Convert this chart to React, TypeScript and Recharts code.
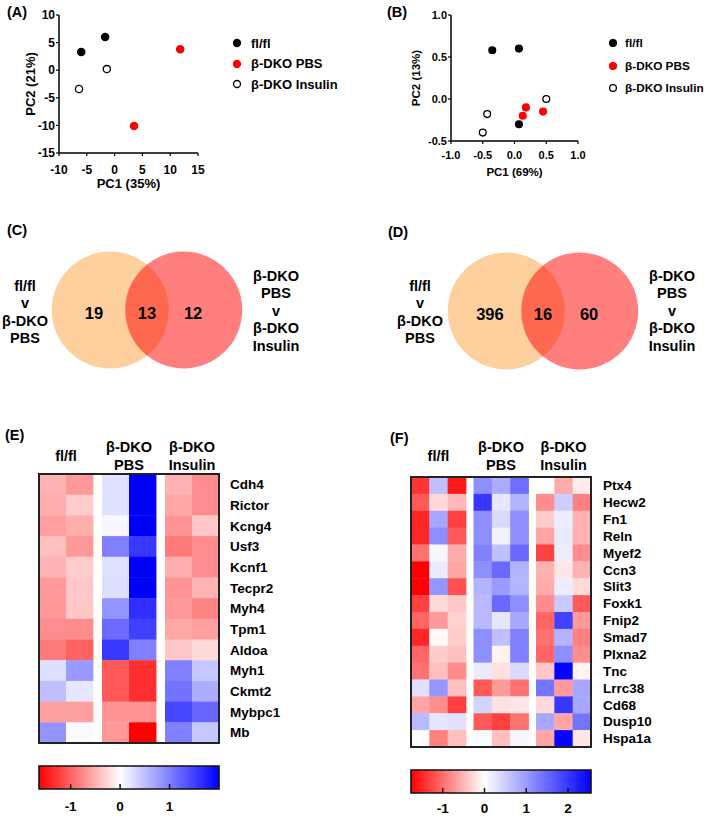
import React from 'react';
import { ScatterChart, Scatter, XAxis, YAxis, ReferenceArea } from 'recharts';

const FONT = "'Liberation Sans', Arial, Helvetica, sans-serif";

// (A) and (B): PCA scores
const groupNames = ['fl/fl', 'β-DKO PBS', 'β-DKO Insulin'];

const pcaA_fl = [{ x: -6.0, y: 3.3 }, { x: -1.7, y: 6.0 }];
const pcaA_pbs = [{ x: 11.8, y: 3.8 }, { x: 3.5, y: -10.1 }];
const pcaA_ins = [{ x: -6.4, y: -3.4 }, { x: -1.4, y: 0.2 }];
const pcaA_xTicks = [-10, -5, 0, 5, 10, 15];
const pcaA_yTicks = [-15, -10, -5, 0, 5, 10];

const pcaB_fl = [{ x: -0.35, y: 0.58 }, { x: 0.07, y: 0.6 }, { x: 0.07, y: -0.3 }];
const pcaB_pbs = [{ x: 0.18, y: -0.1 }, { x: 0.13, y: -0.2 }, { x: 0.45, y: -0.15 }];
const pcaB_ins = [{ x: -0.43, y: -0.18 }, { x: -0.5, y: -0.4 }, { x: 0.5, y: 0.0 }];
const pcaB_xTicks = [-1, -0.5, 0, 0.5, 1];
const pcaB_yTicks = [-0.5, 0, 0.5, 1];

// (C) and (D): overlap counts [left only, both, right only]
const vennC = [19, 13, 12];
const vennD = [396, 16, 60];
const vennLeftLabel = ['fl/fl', 'v', 'β-DKO', 'PBS'];
const vennRightLabel = ['β-DKO', 'PBS', 'v', 'β-DKO', 'Insulin'];

// (E) and (F): heatmaps
const heatGroups = [['fl/fl'], ['β-DKO', 'PBS'], ['β-DKO', 'Insulin']];

const genesE = ['Cdh4', 'Rictor', 'Kcng4', 'Usf3', 'Kcnf1', 'Tecpr2', 'Myh4', 'Tpm1', 'Aldoa', 'Myh1', 'Ckmt2', 'Mybpc1', 'Mb'];
const valuesE = [
  [-0.49, -0.66, 0.24, 2.0, -0.49, -0.74],
  [-0.52, -0.33, 0.24, 2.0, -0.57, -0.74],
  [-0.62, -0.52, 0.06, 2.0, -0.69, -0.36],
  [-0.41, -0.66, 1.0, 1.56, -0.85, -0.74],
  [-0.49, -0.33, 0.24, 2.0, -0.52, -0.74],
  [-0.66, -0.36, 0.26, 2.0, -0.69, -0.49],
  [-0.66, -0.36, 0.84, 1.64, -0.66, -0.79],
  [-0.74, -0.74, 1.16, 1.5, -0.57, -0.62],
  [-0.85, -1.02, 1.56, 1.0, -0.36, -0.25],
  [0.26, 0.8, -1.07, -1.34, 1.0, 0.44],
  [0.5, 0.2, -1.07, -1.34, 1.1, 0.64],
  [-0.62, -0.62, -0.69, -0.69, 1.44, 1.2],
  [0.84, 0.04, -0.66, -1.64, 1.0, 0.44],
];
const scaleE = [-1.64, 2.0];
const barTicksE = [-1, 0, 1];

const genesF = ['Ptx4', 'Hecw2', 'Fn1', 'Reln', 'Myef2', 'Ccn3', 'Slit3', 'Foxk1', 'Fnip2', 'Smad7', 'Plxna2', 'Tnc', 'Lrrc38', 'Cd68', 'Dusp10', 'Hspa1a'];
const valuesF = [
  [-1.4, 0.63, -1.58, 1.13, 0.83, 1.44, 0.0, -0.58, -0.14],
  [-1.14, -0.26, -0.49, 2.0, 0.25, 0.76, -0.79, 0.5, -0.88],
  [-1.5, 0.88, -1.32, 1.13, 0.38, 1.13, -0.35, 0.18, -0.53],
  [-1.5, 1.13, -1.14, 1.13, 0.13, 1.13, -0.62, 0.2, -0.53],
  [-0.97, 0.08, -0.58, 1.26, 0.63, 1.5, -1.32, 0.18, -0.79],
  [-1.76, 0.2, -0.62, 1.13, 1.5, 0.76, -0.53, -0.18, -0.53],
  [-1.76, 1.06, -1.2, 0.76, 1.0, 0.76, -0.58, 0.18, -0.26],
  [-1.32, -0.26, -0.39, 0.7, 1.5, 1.13, -0.79, 0.55, -1.14],
  [-1.06, -0.7, -0.32, 0.7, 0.25, 0.88, -1.06, 1.9, -0.7],
  [-1.5, -0.04, -0.35, 1.13, 0.63, 1.26, -0.97, 0.76, -0.88],
  [-1.06, -0.35, -0.44, 1.13, -0.09, 1.26, -1.06, 1.13, -0.79],
  [-0.97, -0.44, -0.79, 0.2, -0.21, 0.38, -0.39, 2.52, -0.09],
  [0.3, 1.06, -0.44, -1.14, -0.7, -0.97, 1.39, -0.7, 0.88],
  [-0.62, -0.79, -1.32, 0.45, -0.21, -0.18, -0.26, 2.0, 0.88],
  [0.7, 0.25, 0.3, -1.14, -1.32, -0.97, 0.88, -0.62, 1.39],
  [-0.02, -0.88, -0.44, 0.05, -0.44, 0.08, -0.62, 2.52, -0.18],
];
const scaleF = [-1.76, 2.55];
const barTicksF = [-1, 0, 1, 2];

const seriesStyle = [
  { fill: '#000', stroke: '#000' },
  { fill: '#ff0000', stroke: '#ff0000' },
  { fill: '#fff', stroke: '#000' },
];

const boldText = { fill: '#000', fontFamily: FONT, fontWeight: 700 };

const heatColor = (v: number, lo: number, hi: number) => {
  if (v < 0) {
    const c = Math.round(255 * (1 - Math.min(1, v / lo)));
    return `rgb(255,${c},${c})`;
  }
  const c = Math.round(255 * (1 - Math.min(1, v / hi)));
  return `rgb(${c},${c},255)`;
};

const PanelLetter = ({ text, x, y }: any) => (
  <div style={{ position: 'absolute', left: x, top: y, fontFamily: FONT, fontWeight: 700, fontSize: 14.5, lineHeight: 1 }}>
    {text}
  </div>
);

function PcaPanel(props: any) {
  const { left, plotW, plotH, yAxisW, xDomain, yDomain, xTicks, yTicks, xLabel, yLabel, data, fontSize, labelSize, r, decimals, xTickMargin, xLabelOffset, yLabelOffset } = props;
  const fmt = (v: number) => (decimals ? v.toFixed(decimals) : String(v));
  return (
    <div style={{ position: 'absolute', left, top: 0 }}>
      <ScatterChart width={yAxisW + plotW + 8} height={15 + plotH + 40} margin={{ top: 15, right: 8, bottom: 0, left: 0 }}>
        <XAxis
          type="number"
          dataKey="x"
          domain={xDomain}
          ticks={xTicks}
          interval={0}
          height={40}
          tickFormatter={fmt}
          axisLine={{ stroke: '#000', strokeWidth: 1.5 }}
          tickLine={{ stroke: '#000', strokeWidth: 1.2 }}
          tickSize={3}
          tickMargin={xTickMargin}
          tick={{ ...boldText, fontSize }}
          label={{ value: xLabel, position: 'insideTop', offset: xLabelOffset, ...boldText, fontSize: labelSize }}
        />
        <YAxis
          type="number"
          dataKey="y"
          domain={yDomain}
          ticks={yTicks}
          interval={0}
          width={yAxisW}
          tickFormatter={fmt}
          axisLine={{ stroke: '#000', strokeWidth: 1.5 }}
          tickLine={{ stroke: '#000', strokeWidth: 1.2 }}
          tickSize={3}
          tickMargin={1}
          tick={{ ...boldText, fontSize }}
          label={{ value: yLabel, angle: -90, position: 'insideLeft', offset: yLabelOffset, ...boldText, fontSize: labelSize, style: { textAnchor: 'middle' } }}
        />
        {data.map((pts: any[], i: number) => (
          <Scatter
            key={groupNames[i]}
            data={pts}
            isAnimationActive={false}
            shape={(p: any) => (
              <circle cx={p.cx} cy={p.cy} r={r} fill={seriesStyle[i].fill} stroke={seriesStyle[i].stroke} strokeWidth={1.3} />
            )}
          />
        ))}
      </ScatterChart>
    </div>
  );
}

function PcaLegend({ left, top, gap, fontSize, r, textGap }: any) {
  return (
    <div style={{ position: 'absolute', left, top }}>
      {groupNames.map((name, i) => (
        <div key={name} style={{ position: 'absolute', top: i * gap, left: 0, display: 'flex', alignItems: 'center', whiteSpace: 'nowrap', height: 14 }}>
          <svg width={14} height={14}>
            <circle cx={7} cy={7} r={r} fill={seriesStyle[i].fill} stroke={seriesStyle[i].stroke} strokeWidth={1.3} />
          </svg>
          <span style={{ marginLeft: textGap, fontFamily: FONT, fontWeight: 700, fontSize }}>{name}</span>
        </div>
      ))}
    </div>
  );
}

const VENN_SHIFT = 0.628;

function Venn({ left, top, counts }: any) {
  const sets = [
    { x: -VENN_SHIFT, y: 0, fill: '#fdd09e', opacity: 1 },
    { x: VENN_SHIFT, y: 0, fill: '#ff0000', opacity: 0.5 },
  ];
  const regionX = [-VENN_SHIFT - 0.28, 0, VENN_SHIFT + 0.16];
  const regions = counts.map((n: number, i: number) => ({ x: regionX[i], y: -0.05, n }));
  const R = 58.5;
  return (
    <div style={{ position: 'absolute', left, top }}>
      <ScatterChart width={200} height={122} margin={{ top: 0, right: 0, bottom: 0, left: 0 }}>
        <XAxis type="number" dataKey="x" hide domain={[-1.71, 1.71]} />
        <YAxis type="number" dataKey="y" hide domain={[-1.043, 1.043]} />
        <Scatter
          data={sets}
          isAnimationActive={false}
          shape={(p: any) => <circle cx={p.cx} cy={p.cy} r={R} fill={p.payload.fill} fillOpacity={p.payload.opacity} />}
        />
        <Scatter
          data={regions}
          isAnimationActive={false}
          shape={(p: any) => (
            <text x={p.cx} y={p.cy} textAnchor="middle" dominantBaseline="central" {...boldText} fontSize={16.5}>
              {p.payload.n}
            </text>
          )}
        />
      </ScatterChart>
    </div>
  );
}

const VennLabel = ({ lines, cx, top }: any) => (
  <div style={{ position: 'absolute', left: cx - 35, top, width: 70, textAlign: 'center', fontFamily: FONT, fontWeight: 700, fontSize: 14.5, lineHeight: '17.4px' }}>
    {lines.map((l: string, i: number) => (
      <div key={i}>{l}</div>
    ))}
  </div>
);

function Heatmap(props: any) {
  const { left, top, genes, values, perGroup, gap, lo, hi, plotLeft, plotTop, plotW, plotH, labelW, labelGap, bottomGap } = props;
  const nGroups = heatGroups.length;
  const xMax = nGroups * perGroup + (nGroups - 1) * gap;
  const cellW = plotW / xMax;
  const cellH = plotH / genes.length;
  const colX = (c: number) => Math.floor(c / perGroup) * (perGroup + gap) + (c % perGroup) + 0.5;
  const cells = values.flatMap((row: number[], r: number) => row.map((v, c) => ({ x: colX(c), y: r + 0.5, v })));
  const groupCenters = heatGroups.map((_, g) => g * (perGroup + gap) + perGroup / 2);
  const rowTicks = genes.map((_: string, r: number) => r + 0.5);
  const frame = [{ x: xMax / 2, y: genes.length / 2 }];
  const headerH = 50;
  const lineH = 18;

  const header = (p: any) => {
    const g = groupCenters.indexOf(p.payload.value);
    const lines = heatGroups[g] || [];
    const mid = p.y - bottomGap - lineH / 2;
    return (
      <g>
        {lines.map((l, i) => (
          <text key={i} x={p.x} y={mid + (i - (lines.length - 1) / 2) * lineH} textAnchor="middle" dominantBaseline="central" {...boldText} fontSize={14.5}>
            {l}
          </text>
        ))}
      </g>
    );
  };

  return (
    <div style={{ position: 'absolute', left, top }}>
      <ScatterChart width={plotLeft + plotW + labelW} height={plotTop + plotH + 4} margin={{ top: plotTop - headerH, right: 0, bottom: 4, left: plotLeft }}>
        <XAxis
          type="number"
          dataKey="x"
          orientation="top"
          domain={[0, xMax]}
          ticks={groupCenters}
          interval={0}
          height={headerH}
          axisLine={false}
          tickLine={false}
          tickSize={0}
          tickMargin={0}
          tick={header}
        />
        <YAxis
          type="number"
          dataKey="y"
          orientation="right"
          domain={[0, genes.length]}
          reversed
          ticks={rowTicks}
          interval={0}
          width={labelW}
          axisLine={false}
          tickLine={false}
          tickSize={0}
          tickMargin={labelGap}
          tickFormatter={(v: number) => genes[Math.floor(v)]}
          tick={{ ...boldText, fontSize: 13.5 }}
        />
        <Scatter
          data={cells}
          isAnimationActive={false}
          shape={(p: any) => (
            <rect x={p.cx - cellW / 2} y={p.cy - cellH / 2} width={cellW + 0.4} height={cellH + 0.4} fill={heatColor(p.payload.v, lo, hi)} />
          )}
        />
        <Scatter
          data={frame}
          isAnimationActive={false}
          shape={(p: any) => (
            <rect x={p.cx - plotW / 2} y={p.cy - plotH / 2} width={plotW} height={plotH} fill="none" stroke="#222" strokeWidth={2} />
          )}
        />
      </ScatterChart>
    </div>
  );
}

function ColorBar({ id, left, top, lo, hi, ticks, plotLeft, plotW, plotTop, plotH, labelGap }: any) {
  const mid = -lo / (hi - lo);
  return (
    <div style={{ position: 'absolute', left, top }}>
      <ScatterChart width={plotLeft + plotW + 12} height={plotTop + plotH + 26} margin={{ top: plotTop, right: 12, bottom: 0, left: plotLeft }}>
        <defs>
          <linearGradient id={id} x1="0" y1="0" x2="1" y2="0">
            <stop offset="0" stopColor="#ff0000" />
            <stop offset={mid} stopColor="#ffffff" />
            <stop offset="1" stopColor="#0000ff" />
          </linearGradient>
        </defs>
        <XAxis
          type="number"
          dataKey="x"
          domain={[lo, hi]}
          ticks={ticks}
          interval={0}
          height={26}
          axisLine={false}
          tickSize={-5}
          tickMargin={labelGap}
          tickLine={{ stroke: '#111', strokeWidth: 1.5 }}
          tick={{ ...boldText, fontSize: 13.5 }}
        />
        <XAxis
          xAxisId="top"
          type="number"
          dataKey="x"
          orientation="top"
          domain={[lo, hi]}
          ticks={ticks}
          interval={0}
          height={0}
          axisLine={false}
          tickSize={-5}
          tick={false}
          tickLine={{ stroke: '#111', strokeWidth: 1.5 }}
        />
        <YAxis type="number" dataKey="y" hide domain={[0, 1]} />
        <ReferenceArea x1={lo} x2={hi} y1={0} y2={1} fill={`url(#${id})`} fillOpacity={1} stroke="#111" strokeWidth={1.6} />
        <Scatter data={ticks.map((t: number) => ({ x: t, y: 0.5 }))} isAnimationActive={false} shape={() => <g />} />
      </ScatterChart>
    </div>
  );
}

export default function App() {
  return (
    <div style={{ position: 'absolute', left: 0, top: 0, width: 709, height: 816, background: '#fff', overflow: 'hidden' }}>
      <PanelLetter text="(A)" x={7} y={5} />
      <PanelLetter text="(B)" x={387} y={5} />
      <PanelLetter text="(C)" x={7} y={223} />
      <PanelLetter text="(D)" x={388} y={225} />
      <PanelLetter text="(E)" x={5} y={428} />
      <PanelLetter text="(F)" x={390} y={431} />

      <PcaPanel
        left={0}
        plotW={139}
        plotH={138}
        yAxisW={59}
        xDomain={[-10, 15]}
        yDomain={[-15, 10]}
        xTicks={pcaA_xTicks}
        yTicks={pcaA_yTicks}
        xLabel="PC1 (35%)"
        yLabel="PC2 (21%)"
        data={[pcaA_fl, pcaA_pbs, pcaA_ins]}
        fontSize={12}
        labelSize={13}
        r={3.6}
        decimals={0}
        xTickMargin={9}
        xLabelOffset={25.5}
        yLabelOffset={30}
      />
      <PcaLegend left={230} top={36} gap={20.5} fontSize={13} r={3.5} textGap={7} />

      <PcaPanel
        left={360}
        plotW={127}
        plotH={126}
        yAxisW={91}
        xDomain={[-1, 1]}
        yDomain={[-0.5, 1]}
        xTicks={pcaB_xTicks}
        yTicks={pcaB_yTicks}
        xLabel="PC1 (69%)"
        yLabel="PC2 (13%)"
        data={[pcaB_fl, pcaB_pbs, pcaB_ins]}
        fontSize={11}
        labelSize={11.5}
        r={3.4}
        decimals={1}
        xTickMargin={7}
        xLabelOffset={27}
        yLabelOffset={56}
      />
      <PcaLegend left={606} top={36} gap={22.5} fontSize={11.8} r={3.4} textGap={5} />

      <Venn left={47} top={249} counts={vennC} />
      <VennLabel lines={vennLeftLabel} cx={25} top={278} />
      <VennLabel lines={vennRightLabel} cx={276} top={268} />

      <Venn left={443} top={250} counts={vennD} />
      <VennLabel lines={vennLeftLabel} cx={420} top={278} />
      <VennLabel lines={vennRightLabel} cx={672} top={268} />

      <Heatmap
        left={0}
        top={420}
        genes={genesE}
        values={valuesE}
        perGroup={2}
        gap={1 / 3}
        lo={scaleE[0]}
        hi={scaleE[1]}
        plotLeft={39}
        plotTop={54}
        plotW={180}
        plotH={269}
        labelW={80}
        labelGap={11}
        bottomGap={9}
      />
      <ColorBar id="gradE" left={0} top={756} lo={scaleE[0]} hi={scaleE[1]} ticks={barTicksE} plotLeft={39} plotW={180} plotTop={10} plotH={23} labelGap={17} />

      <Heatmap
        left={360}
        top={420}
        genes={genesF}
        values={valuesF}
        perGroup={3}
        gap={0.41}
        lo={scaleF[0]}
        hi={scaleF[1]}
        plotLeft={51}
        plotTop={57}
        plotW={180}
        plotH={270}
        labelW={95}
        labelGap={12}
        bottomGap={12}
      />
      <ColorBar id="gradF" left={360} top={760} lo={scaleF[0]} hi={scaleF[1]} ticks={barTicksF} plotLeft={51} plotW={180} plotTop={10} plotH={23} labelGap={15} />
    </div>
  );
}
